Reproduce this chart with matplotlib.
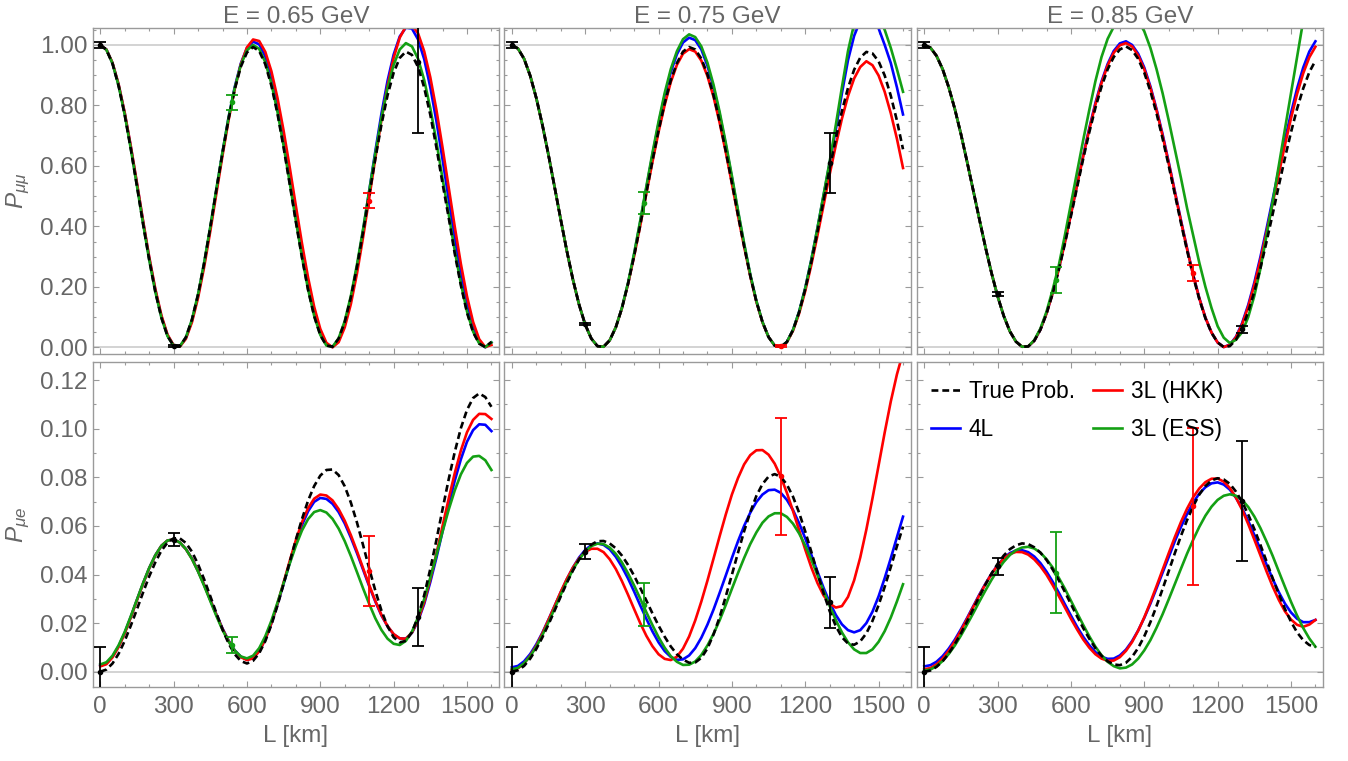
import numpy as np
import matplotlib
matplotlib.use('Agg')
import matplotlib.pyplot as plt
from matplotlib.ticker import MultipleLocator, FormatStrFormatter

# baseline grid (km)
L_km = np.arange(0, 1601, 25)

titles = ['E = 0.65 GeV', 'E = 0.75 GeV', 'E = 0.85 GeV']
labels = ['True Prob.', '4L', '3L (HKK)', '3L (ESS)']

# ---- P_mumu, E = 0.65 GeV
pmm_true_065 = [1.000, 0.984, 0.938, 0.864, 0.768, 0.655, 0.533, 0.408, 0.290, 0.184,
                0.098, 0.037, 0.005, 0.003, 0.033, 0.092, 0.175, 0.279, 0.397, 0.522,
                0.643, 0.756, 0.853, 0.928, 0.975, 0.993, 0.980, 0.936, 0.865, 0.772,
                0.660, 0.539, 0.415, 0.297, 0.190, 0.103, 0.040, 0.006, 0.002, 0.029,
                0.084, 0.165, 0.266, 0.381, 0.503, 0.623, 0.736, 0.833, 0.908, 0.957,
                0.978, 0.967, 0.927, 0.859, 0.769, 0.661, 0.542, 0.430, 0.310, 0.205,
                0.115, 0.050, 0.012, 0.001, 0.018]
pmm_4l_065 = [1.000, 0.985, 0.940, 0.868, 0.774, 0.662, 0.540, 0.416, 0.296, 0.190,
              0.102, 0.040, 0.006, 0.003, 0.030, 0.088, 0.171, 0.276, 0.394, 0.520,
              0.645, 0.761, 0.861, 0.939, 0.990, 1.011, 1.002, 0.962, 0.894, 0.802,
              0.691, 0.569, 0.443, 0.321, 0.211, 0.118, 0.050, 0.010, 0.001, 0.024,
              0.078, 0.160, 0.265, 0.386, 0.517, 0.648, 0.772, 0.881, 0.968, 1.028,
              1.057, 1.054, 1.018, 0.953, 0.860, 0.748, 0.622, 0.490, 0.361, 0.243,
              0.142, 0.065, 0.016, 0.000, 0.016]
pmm_hkk_065 = [1.000, 0.985, 0.941, 0.870, 0.776, 0.665, 0.544, 0.419, 0.300, 0.194,
               0.106, 0.042, 0.007, 0.002, 0.028, 0.083, 0.164, 0.266, 0.384, 0.509,
               0.634, 0.752, 0.854, 0.936, 0.992, 1.018, 1.013, 0.977, 0.913, 0.824,
               0.716, 0.595, 0.468, 0.344, 0.231, 0.134, 0.061, 0.015, 0.000, 0.017,
               0.066, 0.143, 0.244, 0.364, 0.493, 0.625, 0.751, 0.864, 0.957, 1.024,
               1.061, 1.066, 1.038, 0.979, 0.893, 0.785, 0.661, 0.530, 0.399, 0.276,
               0.169, 0.084, 0.027, 0.001, 0.008]
pmm_ess_065 = [1.000, 0.984, 0.939, 0.865, 0.769, 0.656, 0.534, 0.409, 0.290, 0.184,
               0.098, 0.037, 0.005, 0.003, 0.033, 0.092, 0.176, 0.281, 0.399, 0.525,
               0.646, 0.761, 0.858, 0.934, 0.982, 1.000, 0.987, 0.943, 0.872, 0.778,
               0.666, 0.544, 0.419, 0.299, 0.192, 0.104, 0.041, 0.006, 0.002, 0.030,
               0.087, 0.170, 0.274, 0.391, 0.517, 0.641, 0.757, 0.857, 0.934, 0.985,
               1.006, 0.995, 0.954, 0.884, 0.791, 0.680, 0.558, 0.442, 0.319, 0.211,
               0.119, 0.052, 0.013, 0.001, 0.016]

# ---- P_mumu, E = 0.75 GeV
pmm_true_075 = [1.000, 0.988, 0.954, 0.898, 0.824, 0.735, 0.635, 0.529, 0.422, 0.318,
                0.223, 0.141, 0.075, 0.029, 0.004, 0.002, 0.023, 0.066, 0.129, 0.209,
                0.302, 0.404, 0.511, 0.617, 0.717, 0.807, 0.883, 0.940, 0.978, 0.993,
                0.985, 0.955, 0.903, 0.833, 0.747, 0.649, 0.544, 0.437, 0.334, 0.237,
                0.152, 0.084, 0.034, 0.006, 0.001, 0.018, 0.057, 0.116, 0.192, 0.282,
                0.382, 0.486, 0.591, 0.690, 0.781, 0.858, 0.918, 0.958, 0.977, 0.972,
                0.946, 0.899, 0.832, 0.750, 0.655]
pmm_4l_075 = [1.000, 0.988, 0.954, 0.898, 0.824, 0.735, 0.635, 0.529, 0.422, 0.318,
              0.223, 0.141, 0.075, 0.029, 0.004, 0.002, 0.023, 0.066, 0.130, 0.211,
              0.307, 0.414, 0.527, 0.636, 0.739, 0.832, 0.910, 0.969, 1.008, 1.024,
              1.016, 0.985, 0.931, 0.859, 0.770, 0.669, 0.561, 0.448, 0.340, 0.240,
              0.153, 0.084, 0.034, 0.006, 0.001, 0.018, 0.058, 0.118, 0.196, 0.290,
              0.394, 0.502, 0.610, 0.720, 0.840, 0.950, 1.030, 1.080, 1.100, 1.090,
              1.055, 1.000, 0.940, 0.860, 0.770]
pmm_hkk_075 = [1.000, 0.988, 0.954, 0.898, 0.824, 0.735, 0.635, 0.529, 0.422, 0.318,
               0.223, 0.141, 0.075, 0.029, 0.004, 0.002, 0.023, 0.066, 0.129, 0.209,
               0.301, 0.402, 0.508, 0.613, 0.712, 0.801, 0.877, 0.934, 0.971, 0.986,
               0.978, 0.948, 0.897, 0.828, 0.742, 0.645, 0.541, 0.435, 0.333, 0.236,
               0.151, 0.083, 0.034, 0.006, 0.001, 0.017, 0.055, 0.112, 0.186, 0.273,
               0.370, 0.470, 0.572, 0.668, 0.756, 0.831, 0.889, 0.927, 0.946, 0.933,
               0.899, 0.845, 0.774, 0.690, 0.593]
pmm_ess_075 = [1.000, 0.988, 0.954, 0.898, 0.824, 0.735, 0.635, 0.529, 0.422, 0.318,
               0.223, 0.141, 0.075, 0.029, 0.004, 0.002, 0.023, 0.066, 0.130, 0.213,
               0.311, 0.419, 0.532, 0.643, 0.747, 0.841, 0.920, 0.979, 1.019, 1.035,
               1.026, 0.995, 0.941, 0.868, 0.778, 0.676, 0.567, 0.453, 0.344, 0.242,
               0.154, 0.084, 0.034, 0.006, 0.001, 0.018, 0.058, 0.118, 0.196, 0.290,
               0.395, 0.505, 0.615, 0.735, 0.860, 0.980, 1.070, 1.110, 1.130, 1.120,
               1.090, 1.050, 0.990, 0.920, 0.845]

# ---- P_mumu, E = 0.85 GeV
pmm_true_085 = [1.000, 0.991, 0.964, 0.920, 0.860, 0.788, 0.705, 0.614, 0.520, 0.425,
                0.332, 0.246, 0.169, 0.104, 0.053, 0.019, 0.002, 0.003, 0.022, 0.058,
                0.111, 0.177, 0.255, 0.342, 0.434, 0.529, 0.623, 0.711, 0.792, 0.862,
                0.919, 0.960, 0.985, 0.995, 0.983, 0.954, 0.908, 0.847, 0.774, 0.690,
                0.600, 0.506, 0.411, 0.320, 0.235, 0.159, 0.096, 0.048, 0.016, 0.001,
                0.004, 0.025, 0.063, 0.117, 0.184, 0.262, 0.349, 0.440, 0.534, 0.625,
                0.711, 0.789, 0.856, 0.910, 0.948]
pmm_4l_085 = [1.000, 0.991, 0.964, 0.920, 0.860, 0.788, 0.705, 0.614, 0.520, 0.425,
              0.332, 0.246, 0.169, 0.104, 0.053, 0.019, 0.002, 0.003, 0.022, 0.059,
              0.113, 0.180, 0.260, 0.348, 0.442, 0.539, 0.634, 0.725, 0.808, 0.879,
              0.937, 0.980, 1.005, 1.012, 1.000, 0.971, 0.925, 0.863, 0.788, 0.704,
              0.612, 0.516, 0.420, 0.327, 0.240, 0.163, 0.098, 0.049, 0.016, 0.001,
              0.009, 0.035, 0.080, 0.140, 0.214, 0.299, 0.392, 0.489, 0.588, 0.684,
              0.774, 0.856, 0.925, 0.978, 1.012]
pmm_hkk_085 = [1.000, 0.991, 0.964, 0.920, 0.860, 0.788, 0.705, 0.614, 0.520, 0.425,
               0.332, 0.246, 0.169, 0.104, 0.053, 0.019, 0.002, 0.003, 0.022, 0.059,
               0.112, 0.179, 0.258, 0.346, 0.440, 0.536, 0.631, 0.720, 0.803, 0.874,
               0.932, 0.974, 0.999, 1.006, 0.995, 0.965, 0.919, 0.858, 0.784, 0.699,
               0.608, 0.513, 0.417, 0.325, 0.238, 0.162, 0.098, 0.049, 0.016, 0.001,
               0.008, 0.033, 0.076, 0.134, 0.206, 0.289, 0.380, 0.475, 0.573, 0.668,
               0.757, 0.838, 0.906, 0.959, 0.994]
pmm_ess_085 = [1.000, 0.991, 0.964, 0.920, 0.860, 0.788, 0.705, 0.614, 0.520, 0.425,
               0.332, 0.246, 0.169, 0.104, 0.053, 0.019, 0.002, 0.003, 0.024, 0.062,
               0.118, 0.190, 0.270, 0.370, 0.475, 0.580, 0.685, 0.785, 0.880, 0.960,
               1.020, 1.060, 1.090, 1.105, 1.100, 1.080, 1.045, 0.990, 0.920, 0.840,
               0.750, 0.655, 0.560, 0.460, 0.370, 0.280, 0.200, 0.130, 0.070, 0.032,
               0.014, 0.025, 0.050, 0.100, 0.170, 0.260, 0.370, 0.480, 0.600, 0.720,
               0.840, 0.960, 1.080, 1.190, 1.290]

# ---- P_mue, E = 0.65 GeV
pme_true_065 = [0.0000, 0.0009, 0.0034, 0.0074, 0.0127, 0.0190, 0.0257, 0.0326, 0.0392, 0.0450,
                0.0498, 0.0531, 0.0549, 0.0549, 0.0530, 0.0494, 0.0442, 0.0380, 0.0311, 0.0241,
                0.0174, 0.0116, 0.0072, 0.0044, 0.0034, 0.0045, 0.0076, 0.0126, 0.0193, 0.0273,
                0.0361, 0.0452, 0.0543, 0.0628, 0.0704, 0.0764, 0.0807, 0.0830, 0.0832, 0.0809,
                0.0763, 0.0696, 0.0614, 0.0521, 0.0425, 0.0334, 0.0252, 0.0187, 0.0142, 0.0121,
                0.0127, 0.0163, 0.0227, 0.0315, 0.0423, 0.0542, 0.0668, 0.0791, 0.0904, 0.1002,
                0.1077, 0.1126, 0.1145, 0.1130, 0.1090]
pme_4l_065 = [0.0025, 0.0034, 0.0062, 0.0105, 0.0160, 0.0226, 0.0296, 0.0363, 0.0426, 0.0479,
              0.0518, 0.0540, 0.0544, 0.0532, 0.0505, 0.0466, 0.0414, 0.0358, 0.0296, 0.0236,
              0.0178, 0.0128, 0.0088, 0.0062, 0.0050, 0.0057, 0.0085, 0.0133, 0.0199, 0.0277,
              0.0362, 0.0448, 0.0531, 0.0603, 0.0660, 0.0699, 0.0715, 0.0711, 0.0691, 0.0657,
              0.0610, 0.0552, 0.0488, 0.0420, 0.0352, 0.0289, 0.0232, 0.0187, 0.0154, 0.0137,
              0.0136, 0.0160, 0.0209, 0.0279, 0.0369, 0.0469, 0.0577, 0.0685, 0.0786, 0.0874,
              0.0946, 0.0994, 0.1018, 0.1016, 0.0990]
pme_hkk_065 = [0.0022, 0.0031, 0.0059, 0.0102, 0.0158, 0.0224, 0.0294, 0.0362, 0.0425, 0.0478,
               0.0518, 0.0540, 0.0544, 0.0532, 0.0505, 0.0465, 0.0414, 0.0357, 0.0295, 0.0234,
               0.0176, 0.0126, 0.0086, 0.0060, 0.0048, 0.0055, 0.0084, 0.0133, 0.0200, 0.0280,
               0.0368, 0.0456, 0.0541, 0.0615, 0.0673, 0.0712, 0.0729, 0.0725, 0.0705, 0.0669,
               0.0621, 0.0562, 0.0496, 0.0426, 0.0357, 0.0292, 0.0234, 0.0188, 0.0155, 0.0137,
               0.0136, 0.0161, 0.0213, 0.0286, 0.0380, 0.0486, 0.0599, 0.0711, 0.0817, 0.0910,
               0.0985, 0.1036, 0.1061, 0.1060, 0.1040]
pme_ess_065 = [0.0030, 0.0039, 0.0066, 0.0109, 0.0164, 0.0229, 0.0297, 0.0365, 0.0427, 0.0479,
               0.0518, 0.0540, 0.0544, 0.0532, 0.0505, 0.0464, 0.0412, 0.0353, 0.0291, 0.0229,
               0.0172, 0.0124, 0.0087, 0.0063, 0.0055, 0.0066, 0.0097, 0.0146, 0.0210, 0.0285,
               0.0365, 0.0445, 0.0518, 0.0581, 0.0628, 0.0657, 0.0665, 0.0655, 0.0629, 0.0589,
               0.0537, 0.0476, 0.0410, 0.0343, 0.0279, 0.0220, 0.0172, 0.0136, 0.0115, 0.0110,
               0.0127, 0.0165, 0.0224, 0.0299, 0.0387, 0.0480, 0.0576, 0.0666, 0.0746, 0.0812,
               0.0859, 0.0885, 0.0888, 0.0870, 0.0830]

# ---- P_mue, E = 0.75 GeV
pme_true_075 = [0.0000, 0.0006, 0.0024, 0.0054, 0.0094, 0.0142, 0.0195, 0.0252, 0.0310, 0.0366,
                0.0417, 0.0462, 0.0498, 0.0523, 0.0537, 0.0538, 0.0528, 0.0508, 0.0478, 0.0440,
                0.0395, 0.0345, 0.0293, 0.0240, 0.0190, 0.0144, 0.0104, 0.0072, 0.0050, 0.0037,
                0.0038, 0.0057, 0.0096, 0.0154, 0.0225, 0.0310, 0.0399, 0.0490, 0.0578, 0.0656,
                0.0723, 0.0772, 0.0803, 0.0813, 0.0802, 0.0770, 0.0720, 0.0654, 0.0577, 0.0493,
                0.0406, 0.0324, 0.0249, 0.0188, 0.0142, 0.0116, 0.0111, 0.0125, 0.0158, 0.0209,
                0.0274, 0.0349, 0.0431, 0.0516, 0.0597]
pme_4l_075 = [0.0018, 0.0024, 0.0043, 0.0073, 0.0113, 0.0161, 0.0215, 0.0271, 0.0327, 0.0381,
              0.0429, 0.0470, 0.0501, 0.0521, 0.0528, 0.0522, 0.0504, 0.0473, 0.0432, 0.0384,
              0.0330, 0.0273, 0.0218, 0.0166, 0.0121, 0.0085, 0.0061, 0.0049, 0.0051, 0.0067,
              0.0097, 0.0140, 0.0194, 0.0256, 0.0325, 0.0396, 0.0468, 0.0537, 0.0600, 0.0654,
              0.0698, 0.0729, 0.0747, 0.0749, 0.0736, 0.0707, 0.0665, 0.0611, 0.0549, 0.0481,
              0.0412, 0.0345, 0.0285, 0.0234, 0.0195, 0.0171, 0.0162, 0.0171, 0.0200, 0.0247,
              0.0310, 0.0385, 0.0467, 0.0553, 0.0638]
pme_hkk_075 = [0.0007, 0.0014, 0.0034, 0.0066, 0.0107, 0.0158, 0.0214, 0.0271, 0.0329, 0.0382,
               0.0429, 0.0466, 0.0493, 0.0506, 0.0506, 0.0492, 0.0463, 0.0423, 0.0373, 0.0317,
               0.0258, 0.0200, 0.0148, 0.0105, 0.0072, 0.0053, 0.0048, 0.0062, 0.0095, 0.0145,
               0.0211, 0.0289, 0.0375, 0.0466, 0.0558, 0.0647, 0.0729, 0.0797, 0.0853, 0.0891,
               0.0911, 0.0912, 0.0893, 0.0856, 0.0802, 0.0736, 0.0661, 0.0582, 0.0503, 0.0429,
               0.0365, 0.0314, 0.0280, 0.0264, 0.0270, 0.0308, 0.0376, 0.0470, 0.0585, 0.0713,
               0.0848, 0.0984, 0.1112, 0.1223, 0.1313]
pme_ess_075 = [0.0010, 0.0016, 0.0035, 0.0064, 0.0103, 0.0151, 0.0204, 0.0260, 0.0317, 0.0371,
               0.0420, 0.0462, 0.0495, 0.0517, 0.0527, 0.0525, 0.0511, 0.0485, 0.0450, 0.0405,
               0.0355, 0.0301, 0.0245, 0.0192, 0.0142, 0.0099, 0.0064, 0.0041, 0.0028, 0.0029,
               0.0042, 0.0069, 0.0108, 0.0156, 0.0212, 0.0275, 0.0341, 0.0406, 0.0468, 0.0525,
               0.0573, 0.0613, 0.0639, 0.0652, 0.0652, 0.0637, 0.0609, 0.0569, 0.0519, 0.0461,
               0.0398, 0.0333, 0.0270, 0.0213, 0.0162, 0.0121, 0.0092, 0.0077, 0.0077, 0.0092,
               0.0123, 0.0167, 0.0223, 0.0289, 0.0360]

# ---- P_mue, E = 0.85 GeV
pme_true_085 = [0.0000, 0.0005, 0.0020, 0.0043, 0.0075, 0.0114, 0.0158, 0.0207, 0.0258, 0.0309,
                0.0358, 0.0404, 0.0444, 0.0478, 0.0504, 0.0520, 0.0528, 0.0525, 0.0512, 0.0490,
                0.0460, 0.0421, 0.0377, 0.0329, 0.0278, 0.0228, 0.0180, 0.0136, 0.0097, 0.0066,
                0.0043, 0.0030, 0.0027, 0.0037, 0.0061, 0.0098, 0.0146, 0.0204, 0.0270, 0.0341,
                0.0414, 0.0488, 0.0559, 0.0624, 0.0681, 0.0729, 0.0764, 0.0787, 0.0796, 0.0791,
                0.0773, 0.0741, 0.0699, 0.0647, 0.0587, 0.0522, 0.0454, 0.0385, 0.0320, 0.0259,
                0.0206, 0.0162, 0.0130, 0.0110, 0.0103]
pme_4l_085 = [0.0022, 0.0027, 0.0041, 0.0064, 0.0095, 0.0132, 0.0175, 0.0221, 0.0269, 0.0317,
              0.0362, 0.0403, 0.0439, 0.0467, 0.0488, 0.0499, 0.0500, 0.0492, 0.0474, 0.0447,
              0.0412, 0.0371, 0.0326, 0.0278, 0.0231, 0.0185, 0.0144, 0.0109, 0.0081, 0.0062,
              0.0053, 0.0054, 0.0067, 0.0091, 0.0126, 0.0170, 0.0222, 0.0280, 0.0343, 0.0408,
              0.0472, 0.0537, 0.0596, 0.0649, 0.0696, 0.0733, 0.0759, 0.0775, 0.0779, 0.0770,
              0.0749, 0.0716, 0.0672, 0.0621, 0.0563, 0.0503, 0.0441, 0.0382, 0.0328, 0.0281,
              0.0244, 0.0218, 0.0204, 0.0204, 0.0213]
pme_hkk_085 = [0.0010, 0.0015, 0.0030, 0.0054, 0.0086, 0.0125, 0.0169, 0.0217, 0.0266, 0.0314,
               0.0360, 0.0402, 0.0437, 0.0465, 0.0484, 0.0493, 0.0492, 0.0482, 0.0462, 0.0434,
               0.0399, 0.0357, 0.0312, 0.0265, 0.0218, 0.0174, 0.0133, 0.0099, 0.0072, 0.0054,
               0.0045, 0.0046, 0.0060, 0.0086, 0.0122, 0.0169, 0.0224, 0.0286, 0.0352, 0.0420,
               0.0488, 0.0554, 0.0616, 0.0671, 0.0718, 0.0754, 0.0780, 0.0794, 0.0795, 0.0782,
               0.0756, 0.0716, 0.0667, 0.0608, 0.0544, 0.0479, 0.0413, 0.0351, 0.0296, 0.0249,
               0.0215, 0.0193, 0.0185, 0.0194, 0.0213]
pme_ess_085 = [0.0005, 0.0009, 0.0023, 0.0044, 0.0073, 0.0108, 0.0149, 0.0194, 0.0240, 0.0288,
               0.0334, 0.0378, 0.0418, 0.0452, 0.0480, 0.0500, 0.0511, 0.0514, 0.0507, 0.0490,
               0.0463, 0.0429, 0.0387, 0.0342, 0.0292, 0.0242, 0.0193, 0.0146, 0.0103, 0.0068,
               0.0041, 0.0023, 0.0014, 0.0017, 0.0030, 0.0054, 0.0088, 0.0130, 0.0181, 0.0237,
               0.0298, 0.0361, 0.0424, 0.0486, 0.0543, 0.0596, 0.0642, 0.0679, 0.0707, 0.0724,
               0.0730, 0.0724, 0.0707, 0.0678, 0.0639, 0.0591, 0.0536, 0.0477, 0.0413, 0.0350,
               0.0288, 0.0231, 0.0180, 0.0137, 0.0103]

# ---- pseudo-data points with error bars
bar_L = [0, 300, 540, 1100, 1300]
bar_colors = ['black', 'black', 'green', 'red', 'black']

pmm_bar_065 = [1.000, 0.005, 0.810, 0.485, 0.945]
pmm_err_065 = [0.009, 0.003, 0.025, 0.025, 0.235]
pmm_bar_075 = [1.000, 0.077, 0.477, 0.004, 0.610]
pmm_err_075 = [0.009, 0.004, 0.036, 0.003, 0.100]
pmm_bar_085 = [1.000, 0.176, 0.223, 0.246, 0.060]
pmm_err_085 = [0.009, 0.007, 0.044, 0.026, 0.011]

pme_bar_065 = [0.0000, 0.0543, 0.0110, 0.0415, 0.0226]
pme_err_065 = [0.0100, 0.0026, 0.0032, 0.0143, 0.0120]
pme_bar_075 = [0.0000, 0.0494, 0.0276, 0.0804, 0.0285]
pme_err_075 = [0.0100, 0.0030, 0.0088, 0.0241, 0.0104]
pme_bar_085 = [0.0000, 0.0433, 0.0407, 0.0680, 0.0703]
pme_err_085 = [0.0100, 0.0036, 0.0167, 0.0324, 0.0246]

COLORS = {'black': 'black', 'blue': '#0000ff', 'red': '#ff0000', 'green': '#14a014'}
GRAY_TXT = '#666666'
GRAY_FRAME = '#9a9a9a'
FS = 17.5


def main():
    plt.rcParams['font.family'] = ['Liberation Sans', 'DejaVu Sans']
    plt.rcParams['mathtext.fontset'] = 'custom'
    plt.rcParams['mathtext.it'] = 'Liberation Sans:italic'
    plt.rcParams['mathtext.rm'] = 'Liberation Sans'

    fig = plt.figure(figsize=(13.48, 7.61), dpi=100)

    lefts = [92.7 / 1348, 504.3 / 1348, 916.7 / 1348]
    width = 406.3 / 1348
    top_row = (1 - 354.0 / 761, 325.7 / 761)
    bot_row = (1 - 687.3 / 761, 325.0 / 761)

    top_sets = [
        (pmm_true_065, pmm_4l_065, pmm_hkk_065, pmm_ess_065, pmm_bar_065, pmm_err_065),
        (pmm_true_075, pmm_4l_075, pmm_hkk_075, pmm_ess_075, pmm_bar_075, pmm_err_075),
        (pmm_true_085, pmm_4l_085, pmm_hkk_085, pmm_ess_085, pmm_bar_085, pmm_err_085),
    ]
    bot_sets = [
        (pme_true_065, pme_4l_065, pme_hkk_065, pme_ess_065, pme_bar_065, pme_err_065),
        (pme_true_075, pme_4l_075, pme_hkk_075, pme_ess_075, pme_bar_075, pme_err_075),
        (pme_true_085, pme_4l_085, pme_hkk_085, pme_ess_085, pme_bar_085, pme_err_085),
    ]

    for i in range(3):
        ax = fig.add_axes([lefts[i], top_row[0], width, top_row[1]])
        make_panel(ax, top_sets[i], top=True)
        ax.set_title(titles[i], fontsize=FS, color=GRAY_TXT, pad=4)
        if i == 0:
            ax.set_ylabel(r'$P_{\mu\mu}$', fontsize=FS, color=GRAY_TXT)
            ax.yaxis.set_label_coords(-0.15, 0.5)
        else:
            ax.tick_params(labelleft=False)
        ax.tick_params(labelbottom=False)

        ax = fig.add_axes([lefts[i], bot_row[0], width, bot_row[1]])
        handles = make_panel(ax, bot_sets[i], top=False)
        ax.set_xlabel('L [km]', fontsize=FS, color=GRAY_TXT, labelpad=5)
        if i == 0:
            ax.set_ylabel(r'$P_{\mu e}$', fontsize=FS, color=GRAY_TXT)
            ax.yaxis.set_label_coords(-0.15, 0.5)
        else:
            ax.tick_params(labelleft=False)
        if i == 2:
            ax.legend(handles, labels, loc='upper left', bbox_to_anchor=(0.035, 0.947),
                      ncol=2, frameon=False, fontsize=16.3, borderpad=0,
                      borderaxespad=0, handlelength=1.3, handletextpad=0.38,
                      columnspacing=0.8, labelspacing=0.7)

    fig.savefig('out.png', dpi=100)


def make_panel(ax, data, top):
    true, four, hkk, ess, bar_val, bar_err = data

    # reference lines
    ax.axhline(0.0, color='#c8c8c8', lw=1.1, zorder=1)
    if top:
        ax.axhline(1.0, color='#c8c8c8', lw=1.1, zorder=1)

    h_blue, = ax.plot(L_km, four, color=COLORS['blue'], lw=1.9, zorder=2)
    h_red, = ax.plot(L_km, hkk, color=COLORS['red'], lw=1.9, zorder=2.1)
    h_green, = ax.plot(L_km, ess, color=COLORS['green'], lw=1.9, zorder=2.2)
    h_true, = ax.plot(L_km, true, color='black', lw=1.9, dashes=(2.6, 1.5), zorder=2.3)

    for x, v, e, c in zip(bar_L, bar_val, bar_err, bar_colors):
        ax.errorbar(x, v, yerr=e, fmt='o', ms=3, color=COLORS[c], ecolor=COLORS[c],
                    elinewidth=1.3, capsize=4.5, capthick=1.3, zorder=3)

    ax.set_xlim(-31, 1631)
    if top:
        ax.set_ylim(-0.022, 1.055)
        ax.yaxis.set_major_locator(MultipleLocator(0.2))
        ax.yaxis.set_minor_locator(MultipleLocator(0.05))
    else:
        ax.set_ylim(-0.0064, 0.1273)
        ax.yaxis.set_major_locator(MultipleLocator(0.02))
        ax.yaxis.set_minor_locator(MultipleLocator(0.01))
    ax.yaxis.set_major_formatter(FormatStrFormatter('%.2f'))
    ax.xaxis.set_major_locator(MultipleLocator(300))
    ax.xaxis.set_minor_locator(MultipleLocator(100))

    for s in ax.spines.values():
        s.set_color(GRAY_FRAME)
        s.set_linewidth(1.0)
    ax.tick_params(which='both', direction='in', top=True, right=True,
                   color=GRAY_FRAME, width=0.8, labelcolor=GRAY_TXT, labelsize=FS)
    ax.tick_params(which='major', length=4)
    ax.tick_params(which='minor', length=2.2)
    ax.tick_params(axis='x', pad=6)
    ax.tick_params(axis='y', pad=4)

    return [h_true, h_blue, h_red, h_green]


if __name__ == '__main__':
    main()
